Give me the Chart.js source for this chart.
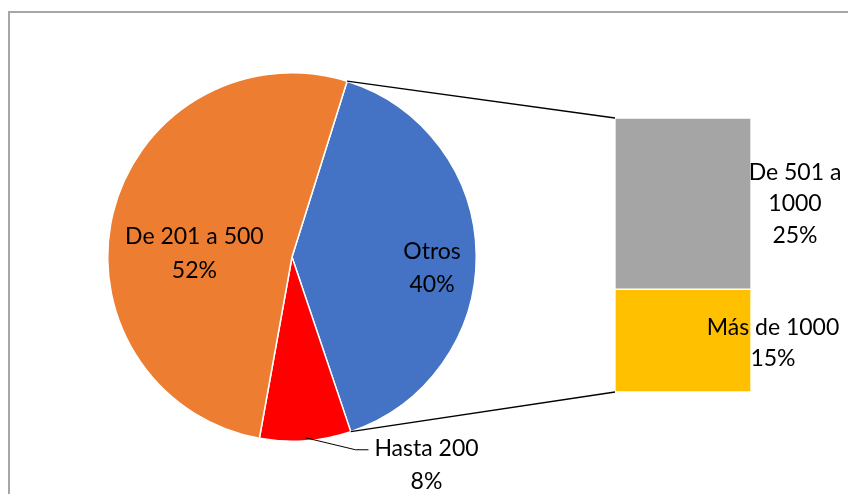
<!DOCTYPE html>
<html>
<head>
<meta charset="utf-8">
<script src="https://cdn.jsdelivr.net/npm/chart.js@4.4.1/dist/chart.umd.min.js"></script>
<style>
  html, body { margin: 0; padding: 0; background: #fff; }
  #wrap { position: relative; width: 848px; height: 494px; overflow: hidden; background: #fff; }
  #frame { position: absolute; left: 8px; top: 11px; width: 900px; height: 600px;
           border-left: 2px solid #a6a6a6; border-top: 2px solid #a6a6a6; }
  canvas { position: absolute; left: 0; top: 0; }
</style>
</head>
<body>
<div id="wrap">
  <div id="frame"></div>
  <canvas id="pieChart" width="848" height="494"></canvas>
  <canvas id="barChart" width="848" height="494"></canvas>
</div>
<script>
// pie slices
const pieLabels = ['Otros', 'Hasta 200', 'De 201 a 500'];
const pieValues = [40, 8, 52];
const pieColors = ['#4472C4', '#FF0000', '#ED7D31'];

// breakdown of "Otros"
const barLabels = ['De 501 a 1000', 'Más de 1000'];
const barValues = [25, 15];
const barColors = ['#A5A5A5', '#FFC000'];

const FONT = '23px Lato, "Liberation Sans", sans-serif';

function drawLines(ctx, lines, x, y, lh) {
    const top = y - (lines.length - 1) * lh / 2;
    lines.forEach(function (t, i) {
        ctx.fillText(t, x, top + i * lh);
    });
}

const pieLabelPlugin = {
    id: 'pieLabels',
    afterDatasetsDraw(chart) {
        const ctx = chart.ctx;
        const arcs = chart.getDatasetMeta(0).data;
        ctx.save();
        ctx.font = FONT;
        ctx.fillStyle = '#000';
        ctx.textAlign = 'center';
        ctx.textBaseline = 'middle';

        // Otros
        let a = arcs[0];
        let mid = (a.startAngle + a.endAngle) / 2;
        drawLines(ctx, [pieLabels[0], pieValues[0] + '%'],
            a.x + Math.cos(mid) * a.outerRadius * 0.76, a.y + Math.sin(mid) * a.outerRadius * 0.76 + 13, 33);

        // De 201 a 500
        a = arcs[2];
        mid = (a.startAngle + a.endAngle) / 2;
        drawLines(ctx, [pieLabels[2], pieValues[2] + '%'],
            a.x + Math.cos(mid) * a.outerRadius * 0.54 - 1, a.y + Math.sin(mid) * a.outerRadius * 0.54 + 20, 34);

        // Hasta 200 - outside with leader line
        a = arcs[1];
        mid = (a.startAngle + a.endAngle) / 2;
        const px = a.x + Math.cos(mid) * a.outerRadius;
        const py = a.y + Math.sin(mid) * a.outerRadius;
        ctx.strokeStyle = '#000';
        ctx.lineWidth = 1;
        ctx.beginPath();
        ctx.moveTo(px, py - 3);
        ctx.lineTo(px + 50, py + 9);
        ctx.lineTo(px + 63, py + 9);
        ctx.stroke();
        drawLines(ctx, [pieLabels[1], pieValues[1] + '%'], px + 121, py + 24, 33);
        ctx.restore();
    }
};

const pieChart = new Chart(document.getElementById('pieChart').getContext('2d'), {
    type: 'pie',
    data: {
        labels: pieLabels,
        datasets: [{
            data: pieValues,
            backgroundColor: pieColors,
            borderColor: '#fff',
            borderWidth: 1.5
        }]
    },
    options: {
        responsive: false,
        animation: false,
        rotation: 17.4,
        layout: { padding: { left: 107, right: 371, top: 72, bottom: 52 } },
        plugins: { legend: { display: false }, tooltip: { enabled: false } }
    },
    plugins: [pieLabelPlugin]
});

const barPlugin = {
    id: 'barExtras',
    afterDatasetsDraw(chart) {
        const ctx = chart.ctx;
        const topBar = chart.getDatasetMeta(1).data[0];   // gray, stacked on top
        const lowBar = chart.getDatasetMeta(0).data[0];   // yellow
        const arc = pieChart.getDatasetMeta(0).data[0];   // Otros

        ctx.save();
        // connector lines from the Otros slice to the bar
        const left = topBar.x - topBar.width / 2;
        ctx.strokeStyle = '#000';
        ctx.lineWidth = 1.3;
        ctx.beginPath();
        ctx.moveTo(arc.x + Math.cos(arc.startAngle) * arc.outerRadius, arc.y + Math.sin(arc.startAngle) * arc.outerRadius);
        ctx.lineTo(left, topBar.y);
        ctx.moveTo(arc.x + Math.cos(arc.endAngle) * arc.outerRadius, arc.y + Math.sin(arc.endAngle) * arc.outerRadius);
        ctx.lineTo(left, lowBar.base);
        ctx.stroke();

        ctx.font = FONT;
        ctx.fillStyle = '#000';
        ctx.textAlign = 'center';
        ctx.textBaseline = 'middle';
        drawLines(ctx, ['De 501 a', '1000', barValues[0] + '%'],
            topBar.x + 112, (topBar.y + topBar.base) / 2, 31.5);
        drawLines(ctx, [barLabels[1], barValues[1] + '%'],
            lowBar.x + 90, (lowBar.y + lowBar.base) / 2 + 2, 31);
        ctx.restore();
    }
};

new Chart(document.getElementById('barChart').getContext('2d'), {
    type: 'bar',
    data: {
        labels: [''],
        datasets: [
            { label: barLabels[1], data: [barValues[1]], backgroundColor: barColors[1],
              borderColor: '#fff', borderWidth: 1, borderSkipped: false },
            { label: barLabels[0], data: [barValues[0]], backgroundColor: barColors[0],
              borderColor: '#fff', borderWidth: 1, borderSkipped: false }
        ]
    },
    options: {
        responsive: false,
        animation: false,
        barPercentage: 1,
        categoryPercentage: 1,
        layout: { padding: { left: 615, right: 97, top: 118, bottom: 102 } },
        scales: {
            x: { stacked: true, display: false },
            y: { stacked: true, display: false, min: 0, max: 40 }
        },
        plugins: { legend: { display: false }, tooltip: { enabled: false } }
    },
    plugins: [barPlugin]
});
</script>
</body>
</html>
